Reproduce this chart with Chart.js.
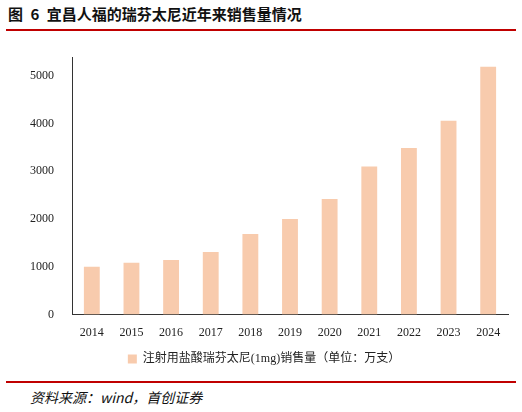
<!DOCTYPE html>
<html><head><meta charset="utf-8">
<script src="https://cdn.jsdelivr.net/npm/chart.js@4"></script>
<style>
body{margin:0;width:522px;height:412px;background:#fff;position:relative;font-family:"Noto Sans CJK SC",sans-serif;overflow:hidden}
#title{position:absolute;left:8px;top:3px;font-size:15px;font-weight:bold;color:#111;word-spacing:4px}
.line{position:absolute;left:6px;width:510px;height:2px;background:#c00000}
#src{position:absolute;left:30px;top:387px;font-size:14px;font-style:italic;color:#111;font-family:"Noto Sans CJK SC","Liberation Serif",serif}
#wrap{position:absolute;left:0;top:40px;width:522px;height:335px}
</style></head><body>
<div id="title">图 6 宜昌人福的瑞芬太尼近年来销售量情况</div>
<div class="line" style="top:29px"></div>
<div id="wrap"><canvas id="c"></canvas></div>
<div class="line" style="top:381px;height:1.5px"></div>
<div id="src">资料来源：wind，首创证券</div>
<script>
const categories=["2014","2015","2016","2017","2018","2019","2020","2021","2022","2023","2024"];
const sales=[1000,1085,1145,1310,1690,2000,2420,3100,3490,4060,5190];
const yTicks=[0,1000,2000,3000,4000,5000];
const seriesName="注射用盐酸瑞芬太尼(1mg)销售量（单位：万支）";
new Chart(document.getElementById('c'),{
type:'bar',
data:{labels:categories,datasets:[{label:seriesName,data:sales,backgroundColor:'#F8CBAD',categoryPercentage:0.8,barPercentage:0.5}]},
options:{responsive:true,maintainAspectRatio:false,animation:false,
layout:{padding:{left:20,right:14,top:0}},
plugins:{legend:{position:'bottom',labels:{boxWidth:9,boxHeight:9,color:'#222',font:{family:'"Liberation Serif","Noto Sans CJK SC"',size:12}}},tooltip:{enabled:false}},
scales:{
x:{grid:{display:false},border:{color:'#333'},ticks:{color:'#222',font:{family:'"Liberation Serif"',size:12}}},
y:{min:0,max:5390,grid:{display:false},border:{color:'#333'},
 afterBuildTicks:a=>{a.ticks=yTicks.map(v=>({value:v}));},
 ticks:{color:'#222',padding:10,callback:v=>String(v),font:{family:'"Liberation Serif"',size:12}}}
}}});
</script></body></html>
